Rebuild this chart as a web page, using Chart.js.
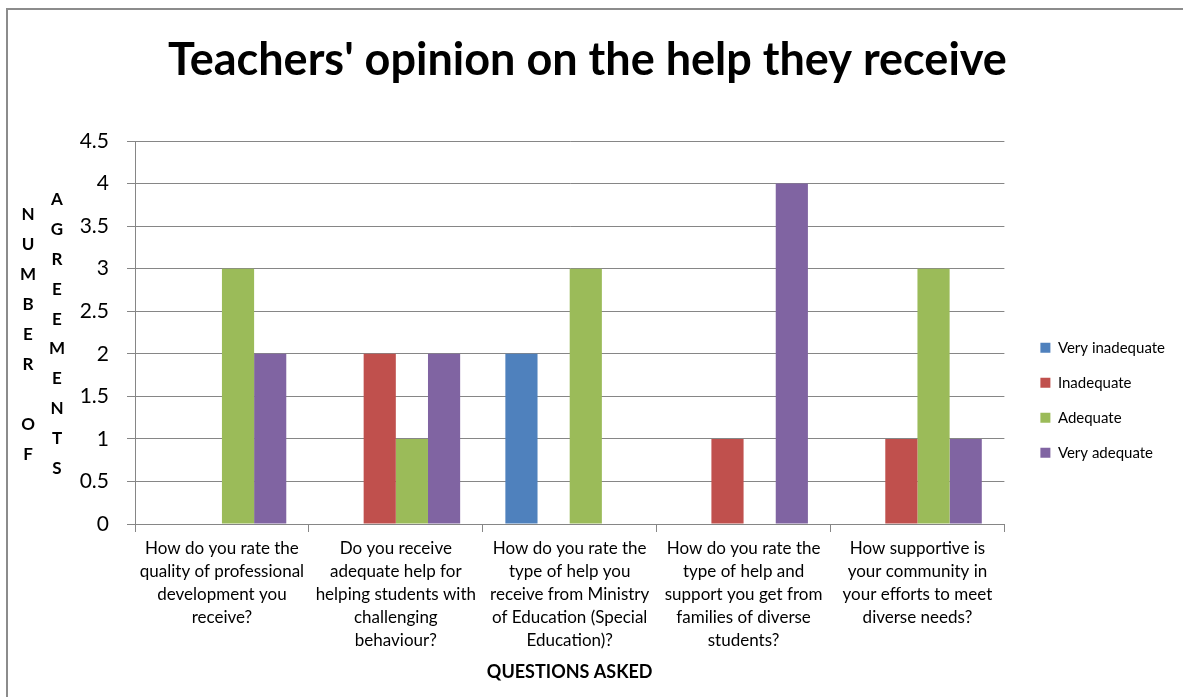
<!DOCTYPE html>
<html>
<head>
<meta charset="utf-8">
<script src="https://cdn.jsdelivr.net/npm/chart.js@4.4.1/dist/chart.umd.min.js"></script>
<style>
  html, body { margin: 0; padding: 0; background: #fff; }
  #wrap { width: 1183px; height: 697px; }
</style>
</head>
<body>
<div id="wrap"><canvas id="chart"></canvas></div>
<script>
const questions = [
    ['How do you rate the', 'quality of professional', 'development you', 'receive?'],
    ['Do you receive', 'adequate help for', 'helping students with', 'challenging', 'behaviour?'],
    ['How do you rate the', 'type of help you', 'receive from Ministry', 'of Education (Special', 'Education)?'],
    ['How do you rate the', 'type of help and', 'support you get from', 'families of diverse', 'students?'],
    ['How supportive is', 'your community in', 'your efforts to meet', 'diverse needs?']
];
const veryInadequate = [0, 0, 2, 0, 0];
const inadequate = [0, 2, 0, 1, 1];
const adequate = [3, 1, 3, 0, 3];
const veryAdequate = [2, 2, 0, 4, 1];

const yMax = 4.5;
const yStep = 0.5;
const yTitleLeft = 'NUMBER OF';
const yTitleRight = 'AGREEMENTS';

const seriesColors = ['#4F81BD', '#C0504D', '#9BBB59', '#8064A2'];
const gridColor = '#868686';
const font = 'Lato, "Open Sans", sans-serif';

// outer frame + stacked-letter y axis title
const frame = {
    id: 'frame',
    beforeDraw(chart) {
        const ctx = chart.ctx;
        ctx.save();
        ctx.fillStyle = '#fff';
        ctx.fillRect(0, 0, chart.width, chart.height);
        ctx.strokeStyle = '#8c8c8c';
        ctx.lineWidth = 2;
        ctx.strokeRect(7, 9, chart.width + 20, chart.height + 20);
        ctx.restore();
    },
    afterDraw(chart) {
        const ctx = chart.ctx;
        ctx.save();
        ctx.fillStyle = '#000';
        ctx.font = 'bold 17px ' + font;
        ctx.textAlign = 'center';
        ctx.textBaseline = 'middle';
        [...yTitleLeft].forEach((ch, i) => ctx.fillText(ch, 28, 215 + i * 30));
        [...yTitleRight].forEach((ch, i) => ctx.fillText(ch, 57, 200 + i * 29.8));
        ctx.restore();
    }
};

new Chart(document.getElementById('chart').getContext('2d'), {
    type: 'bar',
    data: {
        labels: questions,
        datasets: [
            { label: 'Very inadequate', data: veryInadequate, backgroundColor: seriesColors[0] },
            { label: 'Inadequate', data: inadequate, backgroundColor: seriesColors[1] },
            { label: 'Adequate', data: adequate, backgroundColor: seriesColors[2] },
            { label: 'Very adequate', data: veryAdequate, backgroundColor: seriesColors[3] },
        ],
    },
    options: {
        responsive: true,
        maintainAspectRatio: false,
        animation: false,
        layout: { padding: { left: 0, right: 8, top: 0, bottom: 0 } },
        datasets: {
            bar: { categoryPercentage: 0.74, barPercentage: 1.0, borderWidth: 0 }
        },
        plugins: {
            title: {
                display: true,
                text: "Teachers' opinion on the help they receive",
                color: '#000',
                font: { family: font, size: 45, weight: 'bold' },
                padding: { top: 33, bottom: 54 },
            },
            legend: {
                position: 'right',
                title: { display: true, text: ' ', padding: { top: 89, bottom: 0 } },
                labels: {
                    boxWidth: 10,
                    boxHeight: 10,
                    padding: 20,
                    color: '#000',
                    font: { family: font, size: 15 },
                },
            },
            tooltip: { enabled: false },
        },
        scales: {
            x: {
                grid: { drawOnChartArea: false, color: gridColor, tickLength: 8, offset: true },
                border: { color: gridColor },
                ticks: { color: '#000', font: { family: font, size: 17, lineHeight: 1.35 }, padding: 5, maxRotation: 0, autoSkip: false },
                title: {
                    display: true,
                    text: 'QUESTIONS ASKED',
                    color: '#000',
                    font: { family: font, size: 18, weight: 'bold' },
                    padding: { top: 0, bottom: 14 },
                },
                afterFit(s) { s.height = 173; },
            },
            y: {
                min: 0,
                max: yMax,
                grid: { color: gridColor, tickLength: 8 },
                border: { color: gridColor },
                ticks: {
                    stepSize: yStep,
                    color: '#000',
                    font: { family: font, size: 21 },
                    padding: 18,
                    callback: v => String(v),
                },
                afterFit(s) { s.width = 135; },
            },
            y2: {
                position: 'right',
                display: true,
                grid: { display: false, drawTicks: false },
                border: { display: false },
                ticks: { display: false },
                afterFit(s) { s.width = 16; },
            },
        },
    },
    plugins: [frame],
});
</script>
</body>
</html>
